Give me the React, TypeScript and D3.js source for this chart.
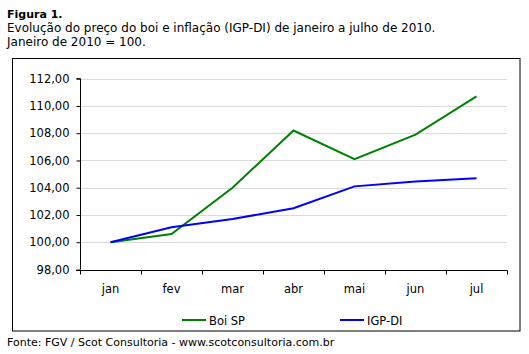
import { useEffect, useRef } from 'react'
import * as d3 from 'd3'

const months = ['jan', 'fev', 'mar', 'abr', 'mai', 'jun', 'jul']
const boiSP = [100.0, 100.6, 104.0, 108.2, 106.1, 107.9, 110.7]
const igpDI = [100.0, 101.1, 101.7, 102.5, 104.1, 104.45, 104.7]
const yTicks = [98, 100, 102, 104, 106, 108, 110, 112]
const seriesNames = ['Boi SP', 'IGP-DI']
const seriesColors = ['#008000', '#0000ff']

const FONT = '"DejaVu Sans", Verdana, sans-serif'

export default function App() {
  const svgRef = useRef<SVGSVGElement>(null)

  useEffect(() => {
    if (!svgRef.current) return
    const svg = d3.select(svgRef.current)
    svg.selectAll('*').remove()

    const width = 529
    const height = 354
    svg.attr('width', width).attr('height', height)

    svg.append('rect').attr('width', width).attr('height', height).attr('fill', '#fff')

    // Titles
    svg.append('text')
      .attr('x', 7).attr('y', 18)
      .style('font-family', FONT).style('font-size', '11px').style('font-weight', 'bold')
      .text('Figura 1.')
    svg.append('text')
      .attr('x', 7).attr('y', 32)
      .style('font-family', FONT).style('font-size', '12px')
      .text('Evolução do preço do boi e inflação (IGP-DI) de janeiro a julho de 2010.')
    svg.append('text')
      .attr('x', 7).attr('y', 46)
      .style('font-family', FONT).style('font-size', '12px')
      .text('Janeiro de 2010 = 100.')

    // Outer frame
    svg.append('rect')
      .attr('x', 12.5).attr('y', 58.5)
      .attr('width', 507.5).attr('height', 272.5)
      .attr('fill', 'none').attr('stroke', '#000').attr('stroke-width', 1)

    const left = 80
    const right = 507
    const top = 78.7
    const bottom = 269.5

    const x = d3.scaleBand().domain(months).range([left, right])
    const y = d3.scaleLinear().domain([98, 112]).range([bottom, top])

    const g = svg.append('g')

    // Grid lines
    g.selectAll('line.grid')
      .data(yTicks.filter(t => t !== 98))
      .enter().append('line')
      .attr('x1', left).attr('x2', right)
      .attr('y1', d => Math.round(y(d)) + 0.5).attr('y2', d => Math.round(y(d)) + 0.5)
      .attr('stroke', '#dadada').attr('stroke-width', 1)

    // Y axis
    const yAxis = d3.axisLeft(y)
      .tickValues(yTicks)
      .tickSize(4)
      .tickFormat(d => d3.format('.2f')(d as number).replace('.', ','))
    const ya = g.append('g').attr('transform', `translate(${left + 0.5},0)`).call(yAxis)
    ya.select('.domain').attr('d', `M-4,${y(112)}H0V${bottom}`).attr('stroke', '#000')
    ya.selectAll('.tick line').attr('stroke', '#000')
    ya.selectAll('.tick text')
      .attr('x', -11)
      .attr('fill', '#000')
      .style('font-family', FONT).style('font-size', '11.5px')

    // X axis
    const xa = g.append('g').attr('transform', `translate(0,${Math.round(bottom) + 0.5})`)
    xa.append('line').attr('x1', left - 4).attr('x2', right + 0.5).attr('stroke', '#000')
    const edges = months.map(m => x(m)!).concat([right])
    xa.selectAll('line.tk')
      .data(edges)
      .enter().append('line')
      .attr('x1', d => Math.round(d) + 0.5).attr('x2', d => Math.round(d) + 0.5)
      .attr('y1', 0).attr('y2', 4).attr('stroke', '#000')
    xa.selectAll('text.lbl')
      .data(months)
      .enter().append('text')
      .attr('x', d => x(d)! + x.bandwidth() / 2)
      .attr('y', 22)
      .attr('text-anchor', 'middle')
      .style('font-family', FONT).style('font-size', '11.5px')
      .text(d => d)

    // Lines
    const line = d3.line<number>()
      .x((_, i) => x(months[i])! + x.bandwidth() / 2)
      .y(d => y(d))
    ;[boiSP, igpDI].forEach((s, i) => {
      g.append('path')
        .datum(s)
        .attr('d', line)
        .attr('fill', 'none')
        .attr('stroke', seriesColors[i])
        .attr('stroke-width', 2)
    })

    // Legend
    const legendX = [182, 340]
    seriesNames.forEach((name, i) => {
      const lg = svg.append('g').attr('transform', `translate(${legendX[i]},320)`)
      lg.append('line').attr('x1', 0).attr('x2', 24).attr('y1', 0).attr('y2', 0)
        .attr('stroke', seriesColors[i]).attr('stroke-width', 2)
      lg.append('text').attr('x', 27).attr('y', 4.5)
        .style('font-family', FONT).style('font-size', '11.5px')
        .text(name)
    })

    // Source
    svg.append('text')
      .attr('x', 7).attr('y', 346)
      .style('font-family', FONT).style('font-size', '11px')
      .text('Fonte: FGV / Scot Consultoria - www.scotconsultoria.com.br')
  }, [])

  return (
    <div style={{ position: 'absolute', left: 0, top: 0 }}>
      <svg ref={svgRef} style={{ display: 'block' }} />
    </div>
  )
}
